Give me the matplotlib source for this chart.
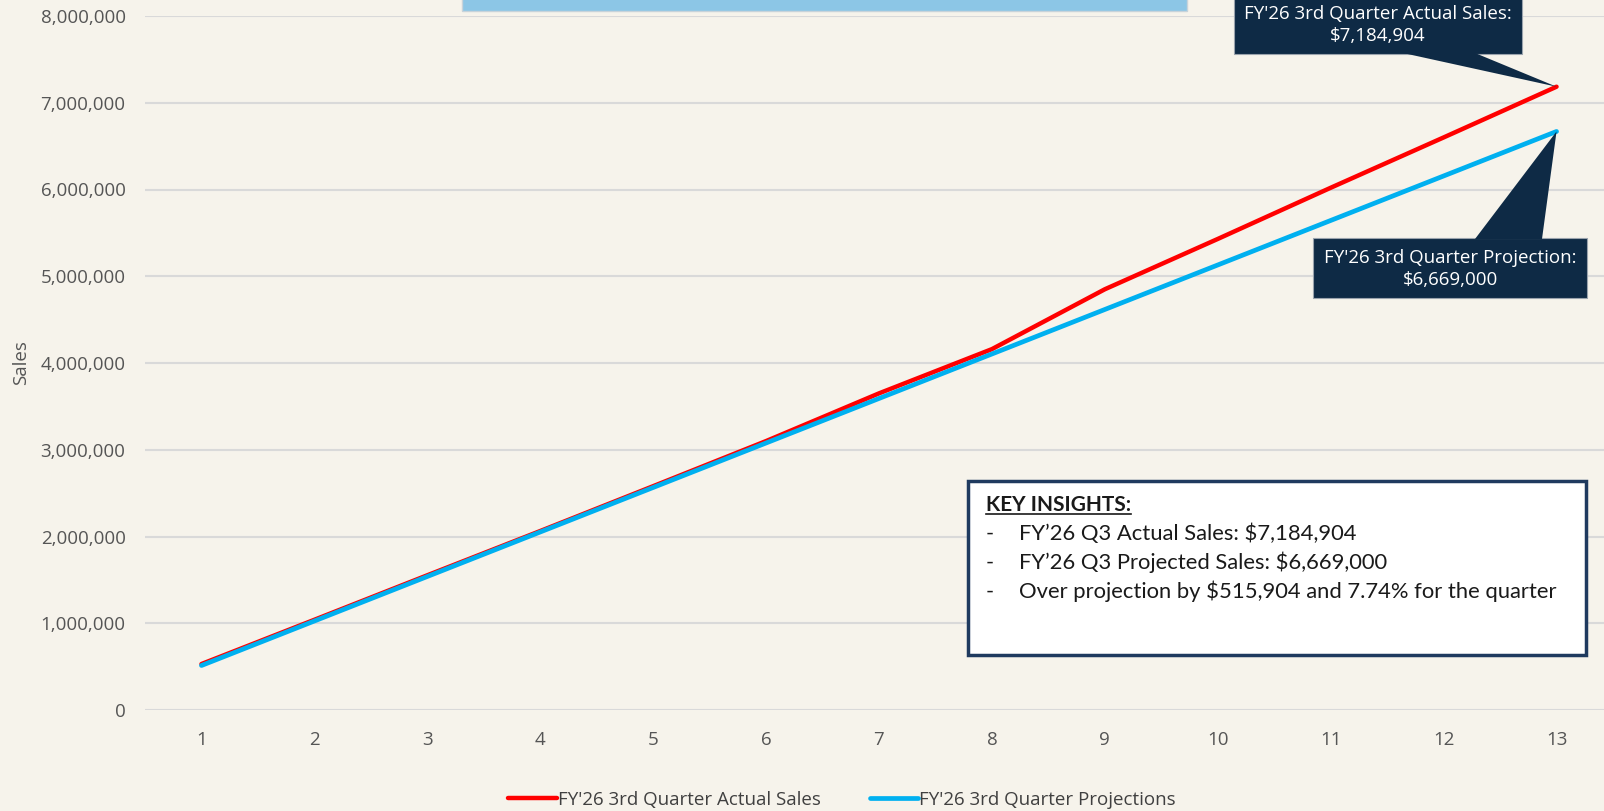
import matplotlib
matplotlib.use("Agg")
import matplotlib.pyplot as plt
from matplotlib.patches import Rectangle, Polygon
from matplotlib.lines import Line2D
from matplotlib.transforms import Affine2D
from matplotlib.ticker import FuncFormatter

# weeks of the quarter and cumulative sales
weeks = list(range(1, 14))
actual_sales = [530000, 1040000, 1553000, 2063000, 2580000, 3100000, 3650000,
                4160000, 4850000, 5430000, 6020000, 6600000, 7184904]
projected_sales = [513000, 1026000, 1539000, 2052000, 2565000, 3078000, 3591000,
                   4104000, 4617000, 5130000, 5643000, 6156000, 6669000]

actual_label = "FY'26 3rd Quarter Actual Sales"
proj_label = "FY'26 3rd Quarter Projections"
actual_note = "FY'26 3rd Quarter Actual Sales:\n$7,184,904"
proj_note = "FY'26 3rd Quarter Projection:\n$6,669,000"
insight_title = "KEY INSIGHTS:"
insight_lines = ["FY\u201926 Q3 Actual Sales: $7,184,904",
                 "FY\u201926 Q3 Projected Sales: $6,669,000",
                 "Over projection by $515,904 and 7.74% for the quarter"]

W, H = 1604, 811
bg = "#f6f3eb"
navy = "#0e2a45"
grey_txt = "#555555"

plt.rcParams['font.family'] = ['Open Sans', 'DejaVu Sans']

fig = plt.figure(figsize=(W / 100, H / 100), dpi=100, facecolor=bg)
# pixel coords measured from the top-left corner
px = Affine2D().scale(1, -1).translate(0, H)

ax = fig.add_axes([145 / W, 1 - 710 / H, 1468 / W, 694 / H])
ax.set_facecolor("none")

ax.plot(weeks, actual_sales, color="#ff0000", lw=3.2, label=actual_label,
        solid_capstyle="round", zorder=3)
ax.plot(weeks, projected_sales, color="#00b0f0", lw=3.4, label=proj_label,
        solid_capstyle="round", zorder=4)

ax.set_xlim(0.5, 13.5)
ax.set_ylim(0, 8000000)
ax.set_xticks(weeks)
ax.set_yticks(range(0, 8000001, 1000000))
ax.yaxis.set_major_formatter(FuncFormatter(lambda v, p: f"{int(v):,}"))
ax.grid(axis="y", color="#d9d9d9", lw=1.5)
ax.set_axisbelow(True)
for s in ax.spines.values():
    s.set_visible(False)
ax.tick_params(length=0, labelsize=13.5, labelcolor=grey_txt)
ax.tick_params(axis="x", pad=15)
ax.tick_params(axis="y", pad=14)
ax.set_ylabel("Sales", fontsize=13.5, color=grey_txt)
ax.yaxis.set_label_coords(-115 / 1468, 0.5)

fig.legend(loc="center", bbox_to_anchor=(842 / W, 1 - 800 / H), ncol=2,
           frameon=False, fontsize=13.5, handlelength=2.6, handletextpad=0.05,
           columnspacing=2.6, labelcolor="#404040")

# title banner (cut off at the top of the picture)
fig.patches.append(Rectangle((462, -40), 725, 51, transform=px, facecolor="#8cc6e6",
                             edgecolor="#c8d3da", lw=1, zorder=5))


def to_px(x, y):
    dx, dy = ax.transData.transform((x, y))
    return dx, H - dy


# callout for actual sales
tx, ty = to_px(weeks[-1], actual_sales[-1])
fig.patches.append(Rectangle((1234, -20), 288, 74, transform=px, facecolor=navy,
                             edgecolor="#9aa3ad", lw=0.8, zorder=6))
fig.patches.append(Polygon([(1403, 53), (1475, 53), (tx, ty)], closed=True, transform=px,
                           facecolor=navy, edgecolor="none", zorder=6))
fig.text(1378 / W, 1 - 25 / H, actual_note, ha="center", va="center", color="white",
         fontsize=13.5, linespacing=1.35, zorder=7)

# callout for projection
tx, ty = to_px(weeks[-1], projected_sales[-1])
fig.patches.append(Rectangle((1313, 238), 274, 60, transform=px, facecolor=navy,
                             edgecolor="#9aa3ad", lw=0.8, zorder=6))
fig.patches.append(Polygon([(1475, 239), (1542, 239), (tx, ty)], closed=True, transform=px,
                           facecolor=navy, edgecolor="none", zorder=6))
fig.text(1450 / W, 1 - 269 / H, proj_note, ha="center", va="center", color="white",
         fontsize=13.5, linespacing=1.35, zorder=7)

# key insights box
fig.patches.append(Rectangle((968, 481), 618, 174, transform=px, facecolor="white",
                             edgecolor="#1f3a5f", lw=2.5, zorder=6))
t = fig.text(986 / W, 1 - 505 / H, insight_title, ha="left", va="center",
             fontsize=15, fontweight="bold", family=["Lato", "DejaVu Sans"],
             color="#1a1a1a", zorder=7)
for i, line in enumerate(insight_lines):
    y = 534 + i * 28.7
    fig.text(986 / W, 1 - y / H, "-", ha="left", va="center", fontsize=15.8,
             family=["Lato", "DejaVu Sans"], color="#1a1a1a", zorder=7)
    fig.text(1019 / W, 1 - y / H, line, ha="left", va="center", fontsize=15.8,
             family=["Lato", "DejaVu Sans"], color="#1a1a1a", zorder=7)

fig.canvas.draw()
bb = t.get_window_extent()
fig.lines.append(Line2D([bb.x0, bb.x1], [bb.y0 + 1, bb.y0 + 1], color="#1a1a1a", lw=1.2,
                        transform=None, zorder=7))

fig.savefig("out.png", dpi=100, facecolor=bg)
